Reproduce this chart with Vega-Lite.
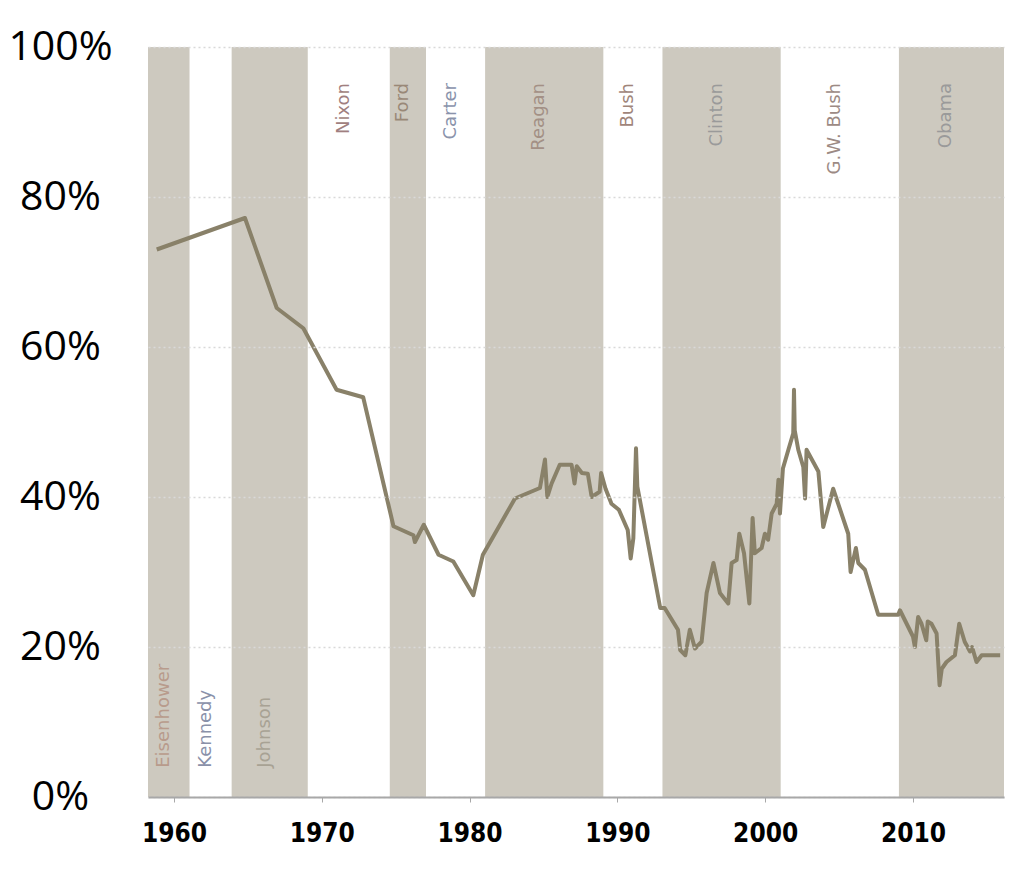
{
  "$schema": "https://vega.github.io/schema/vega-lite/v6.json",
  "width": 856,
  "height": 750,
  "autosize": {"type": "none"},
  "padding": {"left": 148, "top": 47, "right": 30, "bottom": 98},
  "background": "white",
  "config": {"view": {"stroke": null}},
  "datasets": {
    "presidents": [
      {"president": "Eisenhower", "start": 1958.24, "end": 1961.05},
      {"president": "Kennedy", "start": 1961.05, "end": 1963.9},
      {"president": "Johnson", "start": 1963.9, "end": 1969.05},
      {"president": "Nixon", "start": 1969.05, "end": 1974.6},
      {"president": "Ford", "start": 1974.6, "end": 1977.05},
      {"president": "Carter", "start": 1977.05, "end": 1981.05},
      {"president": "Reagan", "start": 1981.05, "end": 1989.05},
      {"president": "Bush", "start": 1989.05, "end": 1993.05},
      {"president": "Clinton", "start": 1993.05, "end": 2001.05},
      {"president": "G.W. Bush", "start": 2001.05, "end": 2009.05},
      {"president": "Obama", "start": 2009.05, "end": 2016.16}
    ],
    "trust": [
      {"year": 1958.83, "pct": 73.0},
      {"year": 1964.8, "pct": 77.2},
      {"year": 1966.95, "pct": 65.2},
      {"year": 1968.75, "pct": 62.5},
      {"year": 1971.0, "pct": 54.3},
      {"year": 1972.8, "pct": 53.3},
      {"year": 1974.85, "pct": 36.1},
      {"year": 1976.2, "pct": 34.9},
      {"year": 1976.3, "pct": 34.0},
      {"year": 1976.9, "pct": 36.3},
      {"year": 1977.9, "pct": 32.3},
      {"year": 1978.9, "pct": 31.4},
      {"year": 1980.25, "pct": 26.9},
      {"year": 1980.9, "pct": 32.3},
      {"year": 1983.07, "pct": 39.8},
      {"year": 1984.76, "pct": 41.2},
      {"year": 1985.1, "pct": 45.0},
      {"year": 1985.26, "pct": 40.0},
      {"year": 1985.55, "pct": 41.8},
      {"year": 1986.1, "pct": 44.3},
      {"year": 1986.9, "pct": 44.3},
      {"year": 1987.1, "pct": 41.8},
      {"year": 1987.25, "pct": 44.1},
      {"year": 1987.6, "pct": 43.2},
      {"year": 1988.0, "pct": 43.1},
      {"year": 1988.26, "pct": 40.0},
      {"year": 1988.8, "pct": 40.7},
      {"year": 1988.9, "pct": 43.2},
      {"year": 1989.2, "pct": 41.1},
      {"year": 1989.6, "pct": 39.1},
      {"year": 1990.1, "pct": 38.3},
      {"year": 1990.7, "pct": 35.6},
      {"year": 1990.9, "pct": 31.8},
      {"year": 1991.08, "pct": 34.5},
      {"year": 1991.26, "pct": 46.5},
      {"year": 1991.35, "pct": 41.4},
      {"year": 1992.9, "pct": 25.2},
      {"year": 1993.2, "pct": 25.2},
      {"year": 1994.1, "pct": 22.3},
      {"year": 1994.25, "pct": 19.6},
      {"year": 1994.6, "pct": 18.9},
      {"year": 1994.9, "pct": 22.3},
      {"year": 1995.25, "pct": 19.8},
      {"year": 1995.7, "pct": 20.7},
      {"year": 1996.04, "pct": 27.2},
      {"year": 1996.5, "pct": 31.2},
      {"year": 1996.94, "pct": 27.2},
      {"year": 1997.5, "pct": 25.8},
      {"year": 1997.73, "pct": 31.2},
      {"year": 1998.07, "pct": 31.6},
      {"year": 1998.25, "pct": 35.1},
      {"year": 1998.57, "pct": 32.5},
      {"year": 1998.93, "pct": 25.8},
      {"year": 1999.15, "pct": 37.2},
      {"year": 1999.3, "pct": 32.5},
      {"year": 1999.76, "pct": 33.2},
      {"year": 1999.98, "pct": 35.1},
      {"year": 2000.2, "pct": 34.3},
      {"year": 2000.44, "pct": 37.8},
      {"year": 2000.78, "pct": 39.1},
      {"year": 2000.9, "pct": 42.3},
      {"year": 2001.0, "pct": 37.8},
      {"year": 2001.2, "pct": 43.8},
      {"year": 2001.57, "pct": 46.3},
      {"year": 2001.9, "pct": 48.5},
      {"year": 2001.95, "pct": 54.3},
      {"year": 2002.0, "pct": 48.9},
      {"year": 2002.24, "pct": 46.3},
      {"year": 2002.58, "pct": 44.0},
      {"year": 2002.7, "pct": 39.8},
      {"year": 2002.76, "pct": 43.4},
      {"year": 2002.8, "pct": 46.3},
      {"year": 2003.6, "pct": 43.4},
      {"year": 2003.93, "pct": 36.0},
      {"year": 2004.6, "pct": 41.1},
      {"year": 2005.62, "pct": 35.1},
      {"year": 2005.78, "pct": 30.0},
      {"year": 2006.14, "pct": 33.2},
      {"year": 2006.3, "pct": 31.2},
      {"year": 2006.75, "pct": 30.3},
      {"year": 2007.65, "pct": 24.3},
      {"year": 2009.0, "pct": 24.3},
      {"year": 2009.12, "pct": 24.9},
      {"year": 2010.0, "pct": 21.4},
      {"year": 2010.13, "pct": 20.0},
      {"year": 2010.35, "pct": 24.0},
      {"year": 2010.58, "pct": 23.1},
      {"year": 2010.9, "pct": 20.9},
      {"year": 2011.0, "pct": 23.4},
      {"year": 2011.25, "pct": 23.1},
      {"year": 2011.6, "pct": 21.8},
      {"year": 2011.8, "pct": 14.9},
      {"year": 2011.95, "pct": 17.1},
      {"year": 2012.27, "pct": 18.0},
      {"year": 2012.84, "pct": 18.9},
      {"year": 2013.13, "pct": 23.1},
      {"year": 2013.5, "pct": 20.7},
      {"year": 2013.86, "pct": 19.4},
      {"year": 2014.0, "pct": 20.0},
      {"year": 2014.3, "pct": 18.0},
      {"year": 2014.65, "pct": 18.9},
      {"year": 2015.9, "pct": 18.9}
    ]
  },
  "layer": [
    {
      "data": {"name": "presidents"},
      "transform": [{"filter": {"field": "president", "oneOf": ["Eisenhower", "Johnson", "Ford", "Reagan", "Clinton", "Obama"]}}],
      "mark": {"type": "rect", "color": "#cdc9bf"},
      "encoding": {
        "x": {
          "field": "start", "type": "quantitative",
          "scale": {"domain": [1958.24, 2016.16], "nice": false, "zero": false},
          "axis": {
            "title": null, "values": [1960, 1970, 1980, 1990, 2000, 2010], "format": "d",
            "labelFont": "DejaVu Sans Condensed, DejaVu Sans", "labelFontWeight": "bold", "labelFontSize": 26,
            "labelColor": "#000000", "labelPadding": 18, "tickSize": 5, "tickColor": "#a8a8a8",
            "domainColor": "#a8a8a8", "domainWidth": 2, "grid": false, "labelFlush": false, "zindex": 1
          }
        },
        "x2": {"field": "end"},
        "y": {
          "datum": 0, "type": "quantitative",
          "scale": {"domain": [0, 100], "nice": false},
          "axis": {
            "title": null, "values": [0, 20, 40, 60, 80, 100],
            "labelExpr": "datum.value + '%'",
            "labelFont": "Open Sans", "labelFontSize": 41, "labelColor": "#000000",
            "labelAlign": "center", "labelBaseline": "middle", "labelPadding": 88,
            "ticks": false, "domain": false, "grid": true, "gridColor": "#d9d9d9",
            "gridDash": [2, 3], "gridWidth": 1.5, "labelFlush": false, "zindex": 1
          }
        },
        "y2": {"datum": 100}
      }
    },
    {
      "data": {"name": "trust"},
      "mark": {"type": "line", "color": "#898169", "strokeWidth": 4, "strokeJoin": "round"},
      "encoding": {
        "x": {"field": "year", "type": "quantitative"},
        "y": {"field": "pct", "type": "quantitative"}
      }
    },
    {
      "data": {"name": "presidents"},
      "transform": [
        {"filter": {"field": "president", "oneOf": ["Nixon", "Ford", "Carter", "Reagan", "Bush", "Clinton", "G.W. Bush", "Obama"]}},
        {"calculate": "(datum.start + datum.end) / 2", "as": "mid"}
      ],
      "mark": {"type": "text", "angle": 270, "align": "right", "baseline": "middle", "font": "DejaVu Sans", "fontSize": 18, "dy": -5},
      "encoding": {
        "x": {"field": "mid", "type": "quantitative"},
        "y": {"datum": 95.2},
        "text": {"field": "president"},
        "color": {
          "field": "president", "type": "nominal", "legend": null,
          "scale": {
            "domain": ["Eisenhower", "Kennedy", "Johnson", "Nixon", "Ford", "Carter", "Reagan", "Bush", "Clinton", "G.W. Bush", "Obama"],
            "range": ["#b89b8c", "#8a91a9", "#a8a294", "#a07f80", "#998877", "#8a93ab", "#a39085", "#a0857a", "#9a9a9a", "#9c8a84", "#9a9a9a"]
          }
        }
      }
    },
    {
      "data": {"name": "presidents"},
      "transform": [
        {"filter": {"field": "president", "oneOf": ["Eisenhower", "Kennedy", "Johnson"]}},
        {"calculate": "(datum.start + datum.end) / 2", "as": "mid"}
      ],
      "mark": {"type": "text", "angle": 270, "align": "left", "baseline": "middle", "font": "DejaVu Sans", "fontSize": 18, "dy": -5},
      "encoding": {
        "x": {"field": "mid", "type": "quantitative"},
        "y": {"datum": 3.9},
        "text": {"field": "president"},
        "color": {"field": "president", "type": "nominal", "legend": null}
      }
    }
  ]
}
